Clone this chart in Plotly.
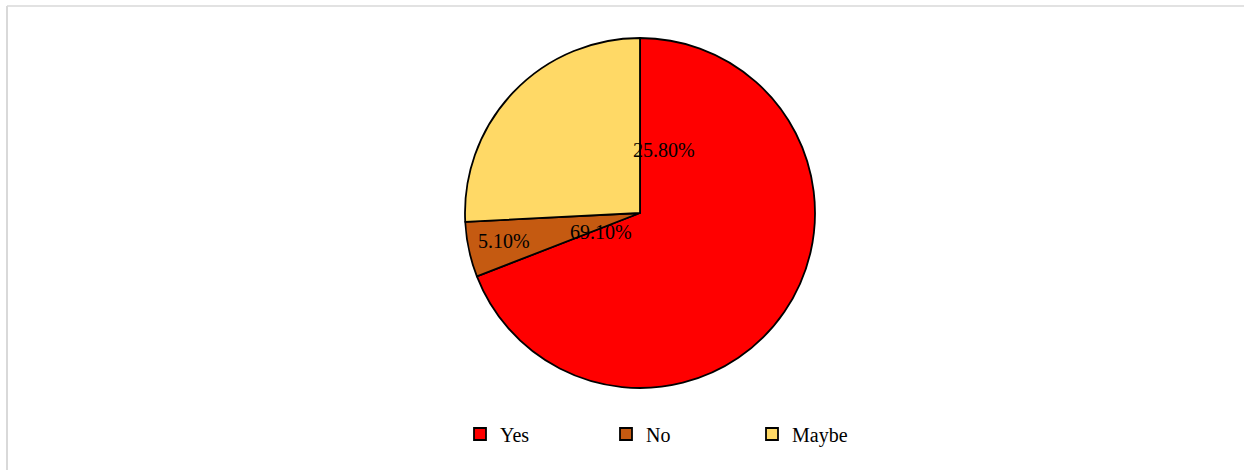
import plotly.graph_objects as go

categories = ["Yes", "No", "Maybe"]
values = [69.1, 5.1, 25.8]
colors = ["#FF0000", "#C55A11", "#FFD966"]

W, H = 1244, 470
cx, cy, r = 640, 213, 175

fig = go.Figure()
fig.add_trace(go.Pie(
    labels=categories,
    values=values,
    sort=False,
    direction="clockwise",
    rotation=0,
    marker=dict(colors=colors, line=dict(color="#000000", width=1.8)),
    textinfo="none",
    hoverinfo="label+percent",
    domain=dict(x=[(cx - r) / W, (cx + r) / W], y=[1 - (cy + r) / H, 1 - (cy - r) / H]),
))

# data labels (placed as in the reference)
label_pos = {"Maybe": (664, 150), "Yes": (601, 232), "No": (504, 241)}
for cat, v in zip(categories, values):
    px, py = label_pos[cat]
    fig.add_annotation(
        x=px / W, y=1 - py / H, xref="paper", yref="paper",
        text=f"{v:.2f}%", showarrow=False,
        font=dict(family="Liberation Serif", size=20, color="#000000"),
        xanchor="center", yanchor="middle",
    )

# frame lines
fig.add_shape(type="line", xref="paper", yref="paper",
              x0=7 / W, x1=1.0, y0=1 - 6 / H, y1=1 - 6 / H,
              line=dict(color="#D9D9D9", width=1.5))
fig.add_shape(type="line", xref="paper", yref="paper",
              x0=7 / W, x1=7 / W, y0=0, y1=1 - 6 / H,
              line=dict(color="#D9D9D9", width=2))

fig.update_layout(
    width=W, height=H,
    margin=dict(l=0, r=0, t=0, b=0),
    paper_bgcolor="#FFFFFF",
    plot_bgcolor="#FFFFFF",
    font=dict(family="Liberation Serif", size=20, color="#000000"),
    showlegend=True,
    legend=dict(
        orientation="h",
        x=(486 - 26) / W, xanchor="left",
        y=1 - 434 / H, yanchor="middle",
        entrywidth=101, entrywidthmode="pixels",
        font=dict(family="Liberation Serif", size=20, color="#000000"),
        bgcolor="rgba(0,0,0,0)",
    ),
)

fig.write_html("out.html", config={"displayModeBar": False},
               post_script="document.body.style.margin='0';document.body.style.padding='0';")
